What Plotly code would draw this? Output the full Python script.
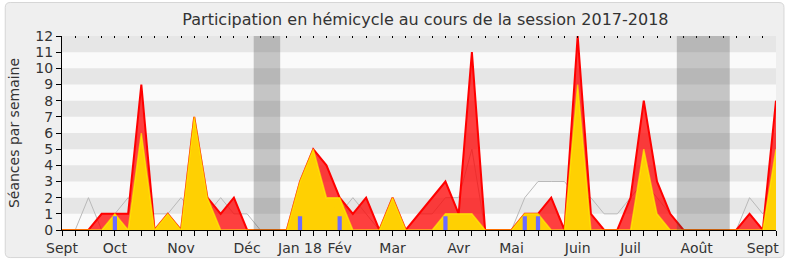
import plotly.graph_objects as go

# ---- data (one value per week, Sept 2017 -> Sept 2018) ----
weeks = list(range(55))
presence = [0, 0, 0, 1, 1, 1, 9, 0, 1, 0,
            7, 2, 1, 2, 0, 0, 0, 0, 3, 5,
            4, 2, 1, 2, 0, 2, 0, 1, 2, 3,
            1, 11, 0, 0, 0, 1, 1, 2, 0, 12,
            1, 0, 0, 2, 8, 3, 1, 0, 0, 0,
            0, 0, 1, 0, 8]
participation = [0, 0, 0, 0, 1, 0, 6, 0, 1, 0,
                 7, 2, 0, 0, 0, 0, 0, 0, 3, 5,
                 2, 2, 0, 0, 0, 2, 0, 0, 0, 1,
                 1, 1, 0, 0, 0, 1, 1, 0, 0, 9,
                 0, 0, 0, 0, 5, 1, 0, 0, 0, 0,
                 0, 0, 0, 0, 5]
mediane = [0, 0, 2, 0, 1, 2, 1, 1, 1, 2,
           1, 1, 2, 1, 1, 0, 0, 0, 1, 2,
           2, 1, 2, 1, 0, 1, 0, 1, 1, 2,
           2, 5, 0, 0, 0, 2, 3, 3, 3, 2,
           2, 1, 1, 2, 3, 2, 1, 0, 0, 0,
           0, 0, 2, 1, 2]
question_weeks = [4, 18, 21, 29, 35, 36]
question_values = [0.85, 0.85, 0.85, 0.85, 0.85, 0.85]
month_ticks = [0, 4, 9, 14, 18, 21, 25, 30, 34, 39, 43, 48, 53]
month_labels = ["Sept", "Oct", "Nov", "Déc", "Jan 18", "Fév", "Mar", "Avr",
                "Mai", "Juin", "Juil", "Août", "Sept"]
vacances_start = [14.5, 46.5]
vacances_end = [16.5, 50.5]

FONT = "DejaVu Sans"
TXT = "#333333"

ticktext = []
for w in weeks:
    ticktext.append(month_labels[month_ticks.index(w)] if w in month_ticks else "")

fig = go.Figure()
fig.add_trace(go.Scatter(x=weeks, y=mediane, mode="lines",
                         line=dict(color="rgb(185,185,185)", width=1),
                         hoverinfo="skip"))
fig.add_trace(go.Scatter(x=weeks, y=presence, mode="lines", fill="tozeroy",
                         fillcolor="rgba(255,0,0,0.75)",
                         line=dict(color="rgb(255,0,0)", width=2),
                         hoverinfo="skip"))
fig.add_trace(go.Scatter(x=weeks, y=participation, mode="lines", fill="tozeroy",
                         fillcolor="rgba(255,214,0,0.96)",
                         line=dict(color="rgba(255,250,0,0.6)", width=1.5),
                         hoverinfo="skip"))
# questions drawn on an overlaying subplot so they sit above the areas
fig.add_trace(go.Bar(x=question_weeks, y=question_values, width=0.32,
                     xaxis="x2", yaxis="y2",
                     marker=dict(color="#6b6bff", line=dict(width=0)),
                     hoverinfo="skip"))

L, R, T, B = 62, 11, 36, 34
W, H = 790, 267
pw, ph = W - L - R, H - T - B

def px_x(p):
    return (p - L) / pw

def px_y(p):
    return (H - B - p) / ph

shapes = []
x0, x1 = px_x(5), px_x(787)
y0, y1 = px_y(261), px_y(2)
rx, ry = 5 / pw, 5 / ph
path = (f"M {x0+rx},{y1} L {x1-rx},{y1} Q {x1},{y1} {x1},{y1-ry} "
        f"L {x1},{y0+ry} Q {x1},{y0} {x1-rx},{y0} L {x0+rx},{y0} "
        f"Q {x0},{y0} {x0},{y0+ry} L {x0},{y1-ry} Q {x0},{y1} {x0+rx},{y1} Z")
shapes.append(dict(type="path", path=path, xref="paper", yref="paper",
                   fillcolor="#efefef", line=dict(color="#d6d6d6", width=1),
                   layer="below"))
shapes.append(dict(type="rect", xref="paper", yref="paper", x0=0, x1=1, y0=0, y1=1,
                   fillcolor="#fafafa", line=dict(width=0), layer="below"))
for k in range(1, 12, 2):
    shapes.append(dict(type="rect", xref="paper", yref="y", x0=0, x1=1,
                       y0=k, y1=k + 1, fillcolor="#e6e6e6",
                       line=dict(width=0), layer="below"))
for a, b in zip(vacances_start, vacances_end):
    shapes.append(dict(type="rect", xref="x", yref="paper", x0=a, x1=b,
                       y0=0, y1=1, fillcolor="rgba(60,60,60,0.28)",
                       line=dict(width=0), layer="above"))

fig.update_layout(
    width=W, height=H,
    margin=dict(l=L, r=R, t=T, b=B, pad=0),
    paper_bgcolor="white", plot_bgcolor="rgba(0,0,0,0)",
    showlegend=False, barmode="overlay",
    font=dict(family=FONT, color=TXT),
    title=dict(text="Participation en hémicycle au cours de la session 2017-2018",
               x=0.509, xref="paper", xanchor="center",
               y=1 - 19 / H, yref="container", yanchor="middle",
               font=dict(size=16, color=TXT, family=FONT)),
    xaxis=dict(range=[0, 54], tickmode="array", tickvals=weeks, ticktext=ticktext,
               ticks="outside", ticklen=5, tickcolor="black", tickwidth=1,
               showline=True, linecolor="black", linewidth=1,
               showgrid=False, zeroline=False, tickangle=0,
               tickfont=dict(size=14, color=TXT, family=FONT)),
    xaxis2=dict(range=[0, 54], overlaying="x", side="top", tickmode="array",
                tickvals=weeks, ticks="inside", ticklen=2, tickcolor="black",
                showticklabels=False, showline=False, showgrid=False,
                zeroline=False),
    yaxis=dict(range=[0, 12], tickmode="linear", tick0=0, dtick=1,
               ticks="outside", ticklen=5, tickcolor="black", tickwidth=1,
               showline=True, linecolor="black", linewidth=1,
               showgrid=False, zeroline=False,
               tickfont=dict(size=14, color=TXT, family=FONT),
               title=dict(text="Séances par semaine", standoff=12,
                          font=dict(size=14, color=TXT, family=FONT))),
    yaxis2=dict(range=[0, 12], overlaying="y", visible=False),
    shapes=shapes,
)

fig.write_html("out.html")
